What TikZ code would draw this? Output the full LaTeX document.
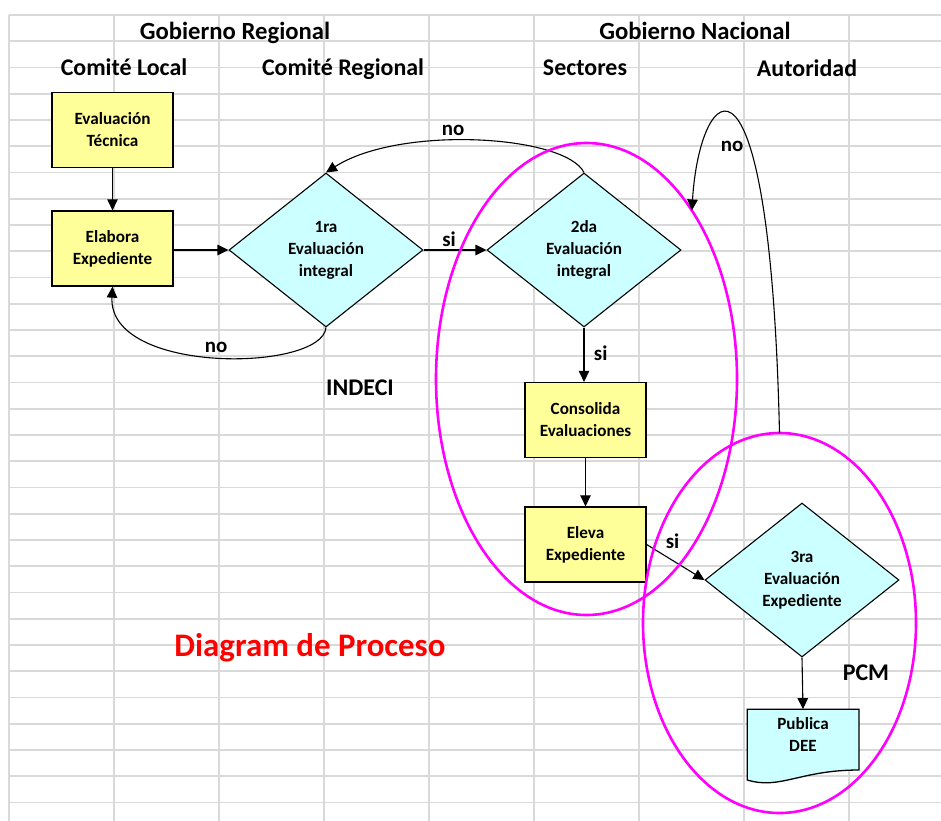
\documentclass[tikz,border=0pt]{standalone}
\usepackage{fontspec}
\setmainfont{Carlito}
\usetikzlibrary{shapes.geometric,arrows.meta}

\pgfdeclarelayer{grid}
\pgfdeclarelayer{under}
\pgfsetlayers{grid,under,main}

\definecolor{gridgray}{HTML}{D9D9D9}
\definecolor{procyellow}{HTML}{FFFF99}
\definecolor{deccyan}{HTML}{CCFFFF}
\definecolor{zonemag}{HTML}{FF00FF}
\definecolor{titlered}{HTML}{FF0000}

\tikzset{
  gridline/.style={draw=gridgray, line width=1.8bp},
  header/.style={font=\fontsize{24}{28}\selectfont\bfseries, anchor=base, inner sep=0pt},
  govheader/.style={header, font=\fontsize{24.8}{28}\selectfont\bfseries},
  flowlabel/.style={font=\fontsize{21}{24}\selectfont\bfseries, anchor=base, inner sep=0pt},
  bigtitle/.style={font=\fontsize{33}{38}\selectfont\bfseries, text=titlered, anchor=base, inner sep=0pt},
  boxtext/.style={align=center, font=\fontsize{17.2}{22}\selectfont\bfseries, inner sep=0pt},
  procbox/.style={boxtext, draw, line width=1.3bp, fill=procyellow,
    minimum width=121bp, minimum height=75bp},
  decision/.style={boxtext, diamond, draw, line width=1.1bp, fill=deccyan,
    minimum width=194bp, minimum height=154bp, shape aspect=1.26},
  docbox/.style={boxtext, minimum width=111.7bp, minimum height=50bp},
  docshape/.style={draw, line width=1.3bp, fill=deccyan},
  zone/.style={ellipse, draw=zonemag, line width=2.6bp, inner sep=0pt, outer sep=0pt},
  flow/.style={line width=1.1bp, -{Triangle[length=11bp,width=10.5bp]}},
}

\begin{document}
\begin{tikzpicture}[x=1bp,y=-1bp]
\useasboundingbox (0,0) rectangle (941,821);

% spreadsheet grid
\begin{pgfonlayer}{grid}
  \fill[white] (0,0) rectangle (941,821);
  \foreach \i in {0,...,8}
    \draw[gridline] ({9+105*\i},15) -- ({9+105*\i},821);
  \foreach \j in {0,...,30}
    \draw[gridline] (9,{15+26.25*\j}) -- (941,{15+26.25*\j});
\end{pgfonlayer}

% column headers
\node[govheader] (hgr)  at (235,39.5) {Gobierno Regional};
\node[govheader] (hgn)  at (695,39.5) {Gobierno Nacional};
\node[header] (hcl)  at (124,76)   {Comité Local};
\node[header] (hcr)  at (343,76)   {Comité Regional};
\node[header] (hsec) at (585,76)   {Sectores};
\node[header] (haut) at (807,76.5) {Autoridad};

% process steps
\node[procbox]  (et)   at (112.5,130)   {Evaluación\\Técnica};
\node[procbox]  (ee)   at (112.5,248.5) {Elabora\\Expediente};
\node[decision] (d1)   at (326,250)     {1ra\\Evaluación\\integral};
\node[decision] (d2)   at (584,250)     {2da\\Evaluación\\integral};
\node[procbox]  (cons) at (585.5,420)   {Consolida\\Evaluaciones};
\node[procbox]  (elev) at (585.5,544.5) {Eleva\\Expediente};
\node[decision] (d3)   at (802,580)     {3ra\\Evaluación\\Expediente};

% published document
\begin{pgfonlayer}{under}
  \path[docshape] (747.3,709.3) -- (859,709.3) -- (859,770)
    .. controls (800,770) and (780,790) .. (747.3,780) -- cycle;
\end{pgfonlayer}
\node[docbox] (pub) at (803,734.3) {Publica\\DEE};

% institution labels
\node[header] (indeci) at (360,395)   {INDECI};
\node[header] (pcmlbl) at (866,680.7) {PCM};
\node[bigtitle] (title) at (310,656)  {Diagram de Proceso};

% connectors
\draw[flow] (et) -- (ee);
\draw[flow] (ee.east |- d1.west) -- (d1.west);
\draw[flow] (d1.east) -- (d2.west);
\draw[flow] (d2.south) -- (d2.south |- cons.north);
\draw[flow] (cons) -- (elev);
\draw[flow] (elev.east) -- (d3.west);
\draw[flow] (d3.south) -- (pub.north);
\draw[flow] (d1.south) .. controls (322,372) and (108,375) .. (ee.south);
\draw[flow] (d2.north) .. controls (565,135) and (400,125) .. (d1.north);

% areas of responsibility
\node[zone, minimum width=301bp, minimum height=472bp] (sect) at (586.5,379) {};
\node[zone, minimum width=273bp, minimum height=380bp] (pcm)  at (779.5,623) {};

\draw[flow] (pcm.north) .. controls (770,20) and (700,80) .. (sect.58);

% decision labels
\node[flowlabel] (no1) at (453,135)   {no};
\node[flowlabel] (si1) at (449,246)   {si};
\node[flowlabel] (no2) at (216,352.7) {no};
\node[flowlabel] (si2) at (600.7,360.7) {si};
\node[flowlabel] (si3) at (672.5,548.3) {si};
\node[flowlabel] (no3) at (732,151.7) {no};
\end{tikzpicture}
\end{document}
